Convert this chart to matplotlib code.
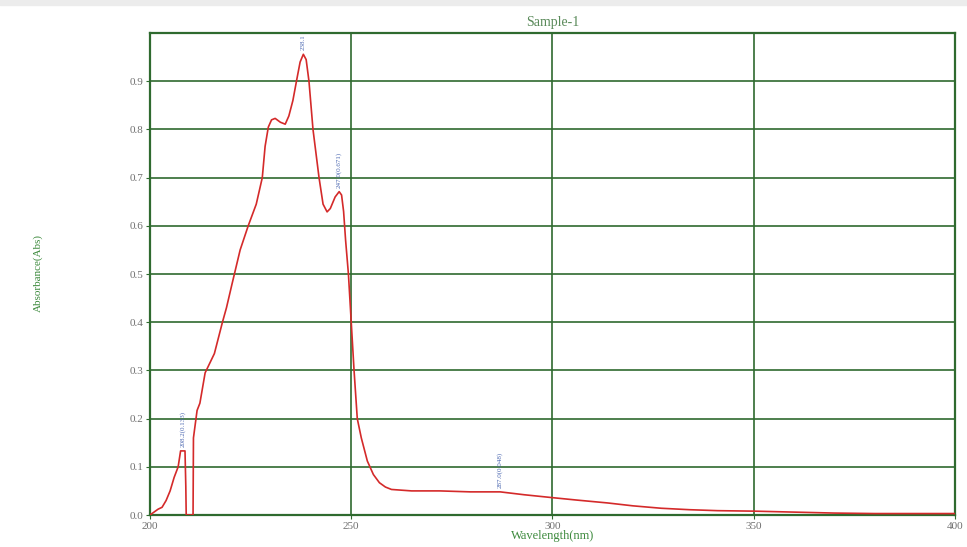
import matplotlib
matplotlib.use("Agg")
import matplotlib.pyplot as plt

# spectrum (wavelength nm, absorbance)
wavelength = [200, 201, 202, 203, 204, 205, 206, 207, 207.6, 208.7, 208.9, 209.0,
              210.7, 210.8, 211.7, 212.4, 213.7, 216.0, 218.0, 219.0, 220.4,
              222.4, 224.4, 226.4, 227.9, 228.6, 229.4, 230.2, 231.1, 232.4,
              233.6, 234.5, 235.5, 236.5, 237.3, 238.1, 238.8, 239.5, 240.5,
              242.0, 243.0, 244.0, 244.8, 246.0, 247.0, 247.6, 248.1, 248.6,
              249.3, 250.0, 250.7, 251.5, 252.5, 254.0, 255.5, 257.0, 258.5,
              260.0, 265.0, 272.0, 279.6, 287.0, 293.0, 300.0, 306.0, 313.7,
              320.0, 327.0, 334.0, 341.0, 350.0, 360.0, 370.0, 380.0, 390.0, 400.0]
absorbance = [0.0, 0.006, 0.012, 0.016, 0.030, 0.050, 0.078, 0.100, 0.133, 0.133, 0.060, 0.0,
              0.0, 0.16, 0.217, 0.232, 0.295, 0.335, 0.40, 0.43, 0.48,
              0.55, 0.60, 0.645, 0.70, 0.765, 0.805, 0.820, 0.823, 0.815,
              0.811, 0.828, 0.860, 0.905, 0.940, 0.956, 0.945, 0.900, 0.80,
              0.70, 0.645, 0.629, 0.636, 0.660, 0.671, 0.664, 0.630, 0.57,
              0.50, 0.40, 0.30, 0.20, 0.160, 0.112, 0.084, 0.067, 0.058,
              0.053, 0.050, 0.050, 0.048, 0.048, 0.042, 0.036, 0.031, 0.025,
              0.019, 0.014, 0.011, 0.009, 0.008, 0.006, 0.004, 0.003, 0.003, 0.003]

# peak picks shown as rotated labels
peak_wl = [208.2, 238.1, 247.0, 287.0]
peak_abs = [0.133, 0.956, 0.671, 0.048]
peak_text = ["208.2(0.133)", "238.1", "247.0(0.671)", "287.0(0.048)"]

x_ticks = [200, 250, 300, 350, 400]
y_ticks = [0.0, 0.1, 0.2, 0.3, 0.4, 0.5, 0.6, 0.7, 0.8, 0.9]

GRID = "#2f6a2f"
LABEL = "#3d8a3d"
TICK = "#707070"

plt.rcParams["font.family"] = ["Liberation Serif", "DejaVu Serif"]

fig = plt.figure(figsize=(9.67, 5.47), dpi=100)
fig.patches.append(plt.Rectangle((0, 0.99), 1, 0.01, transform=fig.transFigure,
                                 color="#ececec", zorder=0))
ax = fig.add_axes([0.1551, 0.0585, 0.8325, 0.881])

ax.plot(wavelength, absorbance, color="#d42a2a", linewidth=1.2, zorder=3)

for w, a, t in zip(peak_wl, peak_abs, peak_text):
    ax.text(w, a + 0.008, t, rotation=90, fontsize=5, color="#4a66b0",
            ha="center", va="bottom", zorder=4)

ax.set_xlim(200, 400)
ax.set_ylim(0, 1.0)
ax.set_xticks(x_ticks)
ax.set_yticks(y_ticks)
ax.set_xticklabels([str(t) for t in x_ticks])
ax.set_yticklabels([f"{t:.1f}" for t in y_ticks])
ax.tick_params(axis="both", length=3, color=GRID, labelsize=8, labelcolor=TICK, pad=2)
ax.grid(True, color=GRID, linewidth=1.2)
ax.set_axisbelow(True)
for s in ax.spines.values():
    s.set_color(GRID)
    s.set_linewidth(1.6)

ax.set_title("Sample-1", fontsize=10, color="#5a8a5a", pad=5)
ax.set_xlabel("Wavelength(nm)", fontsize=9, color=LABEL, labelpad=-1)
fig.text(0.039, 0.5, "Absorbance(Abs)", rotation=90, fontsize=8, color=LABEL,
         ha="center", va="center")

fig.savefig("out.png", dpi=100)
